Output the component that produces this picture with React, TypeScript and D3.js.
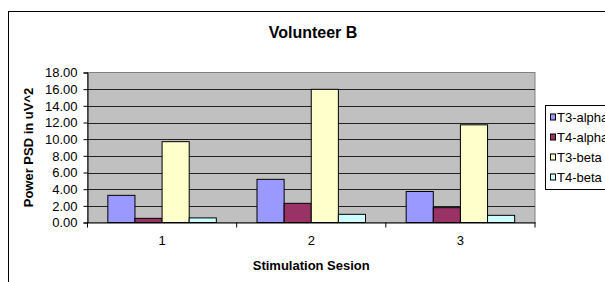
import { useEffect, useRef } from 'react'
import * as d3 from "d3"

const sessions = ['1', '2', '3']
const seriesNames = ['T3-alpha', 'T4-alpha', 'T3-beta', 'T4-beta']
const seriesColors = ['#9999ff', '#993366', '#ffffcc', '#ccffff']
const t3Alpha = [3.26, 5.18, 3.72]
const t4Alpha = [0.5, 2.3, 1.78]
const t3Beta = [9.7, 15.98, 11.72]
const t4Beta = [0.55, 0.98, 0.86]
const yTicks = [0, 2, 4, 6, 8, 10, 12, 14, 16, 18]

function App() {
  const svgRef = useRef(null)

  useEffect(() => {
    const svg = d3.select(svgRef.current)
    svg.selectAll('*').remove()
    const font = 'Liberation Sans, Arial, sans-serif'
    const plot = { left: 87.5, right: 535, top: 72.5, bottom: 222.5 }

    // chart frame
    svg.append('rect')
      .attr('x', 8.5).attr('y', 11.5)
      .attr('width', 700).attr('height', 400)
      .attr('fill', 'white').attr('stroke', 'black').attr('stroke-width', 1)

    svg.append('text')
      .attr('x', 313).attr('y', 38)
      .attr('text-anchor', 'middle')
      .attr('font-family', font).attr('font-size', 16).attr('font-weight', 'bold')
      .text('Volunteer B')

    const x0 = d3.scaleBand().domain(sessions).range([plot.left, plot.right])
    const barW = x0.bandwidth() / 5.5
    const x1 = d3.scaleBand().domain(seriesNames)
      .range([barW * 0.75, barW * 4.75])
    const y = d3.scaleLinear().domain([0, 18]).range([plot.bottom, plot.top])

    svg.append('rect')
      .attr('x', plot.left).attr('y', plot.top)
      .attr('width', plot.right - plot.left).attr('height', plot.bottom - plot.top)
      .attr('fill', '#c0c0c0').attr('stroke', '#808080').attr('stroke-width', 1)

    svg.append('g').selectAll('line')
      .data(yTicks.filter(t => t > 0 && t < 18))
      .join('line')
      .attr('x1', plot.left).attr('x2', plot.right)
      .attr('y1', d => Math.round(y(d)) + 0.5).attr('y2', d => Math.round(y(d)) + 0.5)
      .attr('stroke', '#222').attr('stroke-width', 1)

    const series = [t3Alpha, t4Alpha, t3Beta, t4Beta]
    const bars = []
    sessions.forEach((s, i) => {
      seriesNames.forEach((n, j) => {
        bars.push({ s, n, v: series[j][i], c: seriesColors[j] })
      })
    })
    svg.append('g').selectAll('rect')
      .data(bars)
      .join('rect')
      .attr('x', d => x0(d.s) + x1(d.n))
      .attr('y', d => y(d.v))
      .attr('width', barW)
      .attr('height', d => plot.bottom - y(d.v))
      .attr('fill', d => d.c)
      .attr('stroke', 'black').attr('stroke-width', 1)

    // y axis
    const yAxis = svg.append('g')
      .attr('transform', `translate(${plot.left},0)`)
      .call(d3.axisLeft(y).tickValues(yTicks).tickFormat(d3.format('.2f')).tickSize(4).tickPadding(6))
    yAxis.select('.domain').attr('stroke', 'black')
    yAxis.selectAll('line').attr('stroke', 'black')
    yAxis.selectAll('text').attr('font-family', font).attr('font-size', 13).attr('fill', 'black')

    // x axis
    const xAxis = svg.append('g')
      .attr('transform', `translate(0,${plot.bottom})`)
      .call(d3.axisBottom(x0).tickSize(0).tickPadding(13))
    xAxis.select('.domain').attr('stroke', 'black')
    xAxis.selectAll('text').attr('font-family', font).attr('font-size', 13).attr('fill', 'black')
    svg.append('g').selectAll('line')
      .data([plot.left, ...sessions.map(s => x0(s) + x0.bandwidth())])
      .join('line')
      .attr('x1', d => d).attr('x2', d => d)
      .attr('y1', plot.bottom).attr('y2', plot.bottom + 5)
      .attr('stroke', 'black')

    svg.append('text')
      .attr('x', (plot.left + plot.right) / 2).attr('y', 270)
      .attr('text-anchor', 'middle')
      .attr('font-family', font).attr('font-size', 13).attr('font-weight', 'bold')
      .text('Stimulation Sesion')

    svg.append('text')
      .attr('transform', `translate(33,${(plot.top + plot.bottom) / 2}) rotate(-90)`)
      .attr('text-anchor', 'middle')
      .attr('font-family', font).attr('font-size', 13).attr('font-weight', 'bold')
      .text('Power PSD in uV^2')

    // legend
    const legend = svg.append('g')
    legend.append('rect')
      .attr('x', 545.5).attr('y', 105.5)
      .attr('width', 100).attr('height', 84)
      .attr('fill', 'white').attr('stroke', 'black').attr('stroke-width', 1)
    const items = legend.selectAll('g.item')
      .data(seriesNames)
      .join('g')
      .attr('class', 'item')
      .attr('transform', (d, i) => `translate(550,${117.5 + i * 20})`)
    items.append('rect')
      .attr('x', 0.5).attr('y', -3.5)
      .attr('width', 5).attr('height', 6)
      .attr('fill', (d, i) => seriesColors[i])
      .attr('stroke', 'black').attr('stroke-width', 1)
    items.append('text')
      .attr('x', 7).attr('y', 4.5)
      .attr('font-family', font).attr('font-size', 13)
      .text(d => d)
  }, [])

  return (
    <svg ref={svgRef} width={605} height={282}
      style={{ position: 'absolute', left: 0, top: 0, background: 'white' }} />
  )
}

export default App
